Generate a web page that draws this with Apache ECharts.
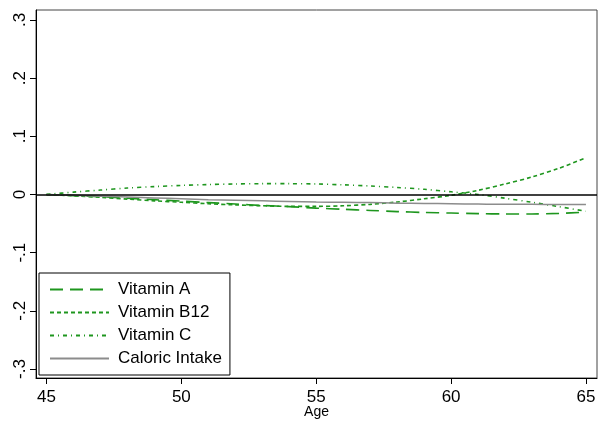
<!DOCTYPE html>
<html>
<head>
<meta charset="utf-8">
<script src="https://cdn.jsdelivr.net/npm/echarts@6/dist/echarts.min.js"></script>
<style>html,body{margin:0;padding:0;background:#fff}#c{width:599px;height:421px}</style>
</head>
<body>
<div id="c"></div>
<script>
var ages = [45,46,47,48,49,50,51,52,53,54,55,56,57,58,59,60,61,62,63,64,65];
var vitaminA = [0,-0.002,-0.004,-0.0065,-0.009,-0.0115,-0.014,-0.0165,-0.019,-0.021,-0.0235,-0.0255,-0.0275,-0.0295,-0.031,-0.032,-0.033,-0.0335,-0.0335,-0.0325,-0.0305];
var vitaminB12 = [0,-0.0025,-0.005,-0.008,-0.011,-0.0135,-0.016,-0.018,-0.0195,-0.0205,-0.0205,-0.0195,-0.017,-0.013,-0.0075,-0.0015,0.007,0.018,0.03,0.045,0.063];
var vitaminC = [0,0.004,0.0075,0.011,0.0135,0.0155,0.017,0.018,0.0185,0.0185,0.018,0.0165,0.0145,0.012,0.0088,0.0045,0.0,-0.0065,-0.0135,-0.021,-0.029];
var caloric = [0,-0.0015,-0.003,-0.0045,-0.006,-0.0075,-0.009,-0.010,-0.011,-0.012,-0.013,-0.0135,-0.014,-0.015,-0.0155,-0.016,-0.0165,-0.017,-0.017,-0.0175,-0.0175];
var xTicks = [45,50,55,60,65];
var yTicks = [-0.3,-0.2,-0.1,0,0.1,0.2,0.3];
var seriesNames = ['Vitamin A','Vitamin B12','Vitamin C','Caloric Intake'];

function pairs(v){ return ages.map(function(a,i){ return [a, v[i]]; }); }
function fmtY(v){
  var r = Math.round(v*10)/10;
  if (r === 0) return '0';
  var s = String(Math.abs(r)).replace(/^0/, '');
  return (r < 0 ? '-' : '') + s;
}
var green = '#1e961e';
var font = 'Liberation Sans, Arial, sans-serif';
var chart = echarts.init(document.getElementById('c'));
chart.setOption({
  animation: false,
  backgroundColor: '#fff',
  grid: { left: 36, right: 2, top: 10, bottom: 43, show: true, borderColor: '#444', borderWidth: 1, containLabel: false, outerBoundsMode: 'none' },
  xAxis: {
    type: 'value', min: 44.61, max: 65.41,
    name: 'Age', nameLocation: 'middle', nameGap: 27, nameMoveOverlap: false,
    nameTextStyle: { color: '#000', fontSize: 14, fontFamily: font, verticalAlign: 'top' },
    axisLine: { show: true, onZero: false, lineStyle: { color: '#000', width: 1 } },
    axisTick: { show: true, length: 6, customValues: xTicks, lineStyle: { color: '#000' } },
    axisLabel: { customValues: xTicks, color: '#000', fontSize: 17, fontFamily: font, margin: 11 },
    splitLine: { show: false }
  },
  yAxis: {
    type: 'value', min: -0.3155, max: 0.317,
    axisLine: { show: true, onZero: false, lineStyle: { color: '#000', width: 1 } },
    axisTick: { show: true, length: 6, customValues: yTicks, lineStyle: { color: '#000' } },
    axisLabel: { customValues: yTicks, rotate: 90, color: '#000', fontSize: 17, fontFamily: font, margin: 7, formatter: fmtY },
    splitLine: { show: false }
  },
  legend: {
    orient: 'vertical', left: 39, top: 273,
    padding: [8, 8, 8, 10], itemGap: 6, itemWidth: 59, itemHeight: 14,
    borderColor: '#000', borderWidth: 1, backgroundColor: '#fff',
    itemStyle: { opacity: 0 },
    textStyle: { color: '#000', fontSize: 17, lineHeight: 17, fontFamily: font, padding: [0, 0, 0, 4] },
    data: seriesNames
  },
  series: [
    { name: seriesNames[0], type: 'line', data: pairs(vitaminA), symbol: 'none', smooth: 0.3,
      lineStyle: { color: green, width: 1.6, type: [13, 7] }, itemStyle: { color: green },
      markLine: { silent: true, symbol: 'none', label: { show: false },
        lineStyle: { color: '#000', width: 1.5, type: 'solid' }, data: [{ yAxis: 0 }] } },
    { name: seriesNames[1], type: 'line', data: pairs(vitaminB12), symbol: 'none', smooth: 0.3,
      lineStyle: { color: green, width: 1.6, type: [4, 3] }, itemStyle: { color: green } },
    { name: seriesNames[2], type: 'line', data: pairs(vitaminC), symbol: 'none', smooth: 0.3,
      lineStyle: { color: green, width: 1.6, type: [4, 4, 1, 4] }, itemStyle: { color: green } },
    { name: seriesNames[3], type: 'line', data: pairs(caloric), symbol: 'none', smooth: 0.3,
      lineStyle: { color: '#8c8c8c', width: 1.5, type: 'solid' }, itemStyle: { color: '#8c8c8c' } }
  ]
});
</script>
</body>
</html>
